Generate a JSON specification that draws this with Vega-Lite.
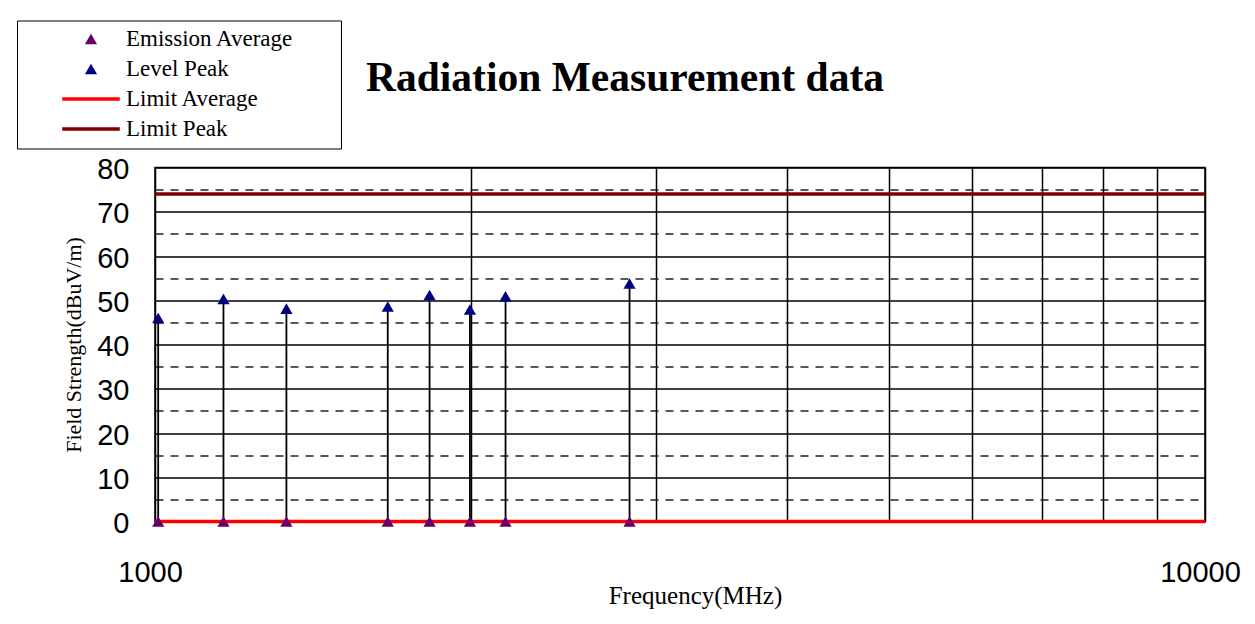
{
  "$schema": "https://vega.github.io/schema/vega-lite/v6.json",
  "width": 1050,
  "height": 354,
  "autosize": {"type": "none"},
  "padding": {"left": 155, "top": 167.5, "right": 50, "bottom": 102.5},
  "background": "white",
  "title": {
    "text": "Radiation Measurement data",
    "font": "Liberation Serif",
    "fontSize": 41.5,
    "fontWeight": "bold",
    "color": "black",
    "anchor": "start",
    "frame": "group",
    "baseline": "alphabetic",
    "offset": 0,
    "dx": 211,
    "dy": 112
  },
  "datasets": {
    "meas": [
      {"freq": 1007, "Emission Average": 0, "Level Peak": 46.0},
      {"freq": 1162, "Emission Average": 0, "Level Peak": 50.3},
      {"freq": 1334, "Emission Average": 0, "Level Peak": 48.1},
      {"freq": 1666, "Emission Average": 0, "Level Peak": 48.6},
      {"freq": 1826, "Emission Average": 0, "Level Peak": 51.2},
      {"freq": 1995, "Emission Average": 0, "Level Peak": 47.9},
      {"freq": 2157, "Emission Average": 0, "Level Peak": 50.9},
      {"freq": 2831, "Emission Average": 0, "Level Peak": 53.8}
    ],
    "limits": [
      {"series": "Limit Average", "level": 0},
      {"series": "Limit Peak", "level": 74}
    ]
  },
  "config": {
    "view": {"stroke": "black", "strokeWidth": 1.5}
  },
  "resolve": {"axis": {"y": "independent"}},
  "layer": [
    {
      "data": {"name": "limits"},
      "mark": {"type": "rule", "strokeWidth": 3.5},
      "encoding": {
        "y": {
          "field": "level",
          "type": "quantitative",
          "title": "Field Strength(dBuV/m)",
          "scale": {"domain": [0, 80], "nice": false, "zero": true},
          "axis": {
            "orient": "left",
            "values": [0, 10, 20, 30, 40, 50, 60, 70, 80],
            "grid": true,
            "gridColor": "black",
            "gridWidth": 1.5,
            "gridOpacity": 1,
            "domain": false,
            "ticks": false,
            "tickSize": 0,
            "labelFont": "Liberation Sans",
            "labelFontSize": 29,
            "labelColor": "black",
            "labelPadding": 26,
            "labelOffset": 2,
            "labelOverlap": false,
            "labelFlush": false,
            "titleFont": "Liberation Serif",
            "titleFontSize": 22,
            "titleFontWeight": "normal",
            "titleColor": "black",
            "titleAngle": 270,
            "titleBaseline": "alphabetic",
            "titleX": -75,
            "titleY": 177
          }
        },
        "color": {
          "field": "series",
          "type": "nominal",
          "scale": {
            "domain": ["Emission Average", "Level Peak", "Limit Average", "Limit Peak"],
            "range": ["#660066", "#000080", "#FF0000", "#800000"]
          }
        }
      }
    },
    {
      "data": {"name": "meas"},
      "mark": {"type": "rule", "color": "black", "strokeWidth": 1.8},
      "encoding": {
        "x": {
          "field": "freq",
          "type": "quantitative",
          "title": "Frequency(MHz)",
          "scale": {"type": "log", "domain": [1000, 10000], "nice": false},
          "axis": {
            "values": [1000, 2000, 3000, 4000, 5000, 6000, 7000, 8000, 9000, 10000],
            "format": "d",
            "labelExpr": "datum.value == 1000 || datum.value == 10000 ? datum.label : ''",
            "grid": true,
            "gridColor": "black",
            "gridWidth": 1.5,
            "gridOpacity": 1,
            "domain": false,
            "ticks": false,
            "tickSize": 0,
            "labelFont": "Liberation Sans",
            "labelFontSize": 29,
            "labelColor": "black",
            "labelBaseline": "top",
            "labelPadding": 37,
            "labelOffset": -5,
            "labelOverlap": false,
            "labelFlush": false,
            "titleFont": "Liberation Serif",
            "titleFontSize": 25,
            "titleFontWeight": "normal",
            "titleColor": "black",
            "titleBaseline": "alphabetic",
            "titleX": 540,
            "titleY": 81.5
          }
        },
        "y": {
          "field": "Level Peak",
          "type": "quantitative",
          "axis": {
            "orient": "left",
            "title": null,
            "values": [5, 15, 25, 35, 45, 55, 65, 75],
            "labels": false,
            "grid": true,
            "gridColor": "#222222",
            "gridDash": [8, 7],
            "gridWidth": 1.5,
            "gridOpacity": 1,
            "domain": false,
            "ticks": false,
            "tickSize": 0,
            "labelPadding": 0
          }
        },
        "y2": {"datum": 0}
      }
    },
    {
      "data": {"name": "meas"},
      "transform": [{"fold": ["Emission Average", "Level Peak"], "as": ["series", "level"]}],
      "mark": {"type": "point", "filled": true, "opacity": 1, "size": 150},
      "encoding": {
        "x": {"field": "freq", "type": "quantitative", "title": "Frequency(MHz)"},
        "y": {"field": "level", "type": "quantitative", "axis": null},
        "color": {
          "field": "series",
          "type": "nominal",
          "legend": {
            "orient": "none",
            "legendX": -138,
            "legendY": -147,
            "title": null,
            "strokeColor": "black",
            "fillColor": "white",
            "padding": 7,
            "rowPadding": 6,
            "symbolOffset": 55.5,
            "labelOffset": 23.5,
            "labelLimit": 400,
            "labelFont": "Liberation Serif",
            "labelFontSize": 23,
            "labelColor": "black",
            "symbolSize": 150,
            "symbolStrokeWidth": 0,
            "labelExpr": "datum.label + '\u00a0\u00a0\u00a0\u00a0\u00a0\u00a0\u00a0\u200b'",
            "encode": {
              "legend": {"update": {"strokeWidth": {"value": 2}}}
            }
          }
        },
        "shape": {
          "field": "series",
          "type": "nominal",
          "scale": {
            "domain": ["Emission Average", "Level Peak", "Limit Average", "Limit Peak"],
            "range": ["triangle-up", "triangle-up", "M-4.7,-0.3H4.7V0.3H-4.7Z", "M-4.7,-0.3H4.7V0.3H-4.7Z"]
          }
        }
      }
    }
  ]
}
